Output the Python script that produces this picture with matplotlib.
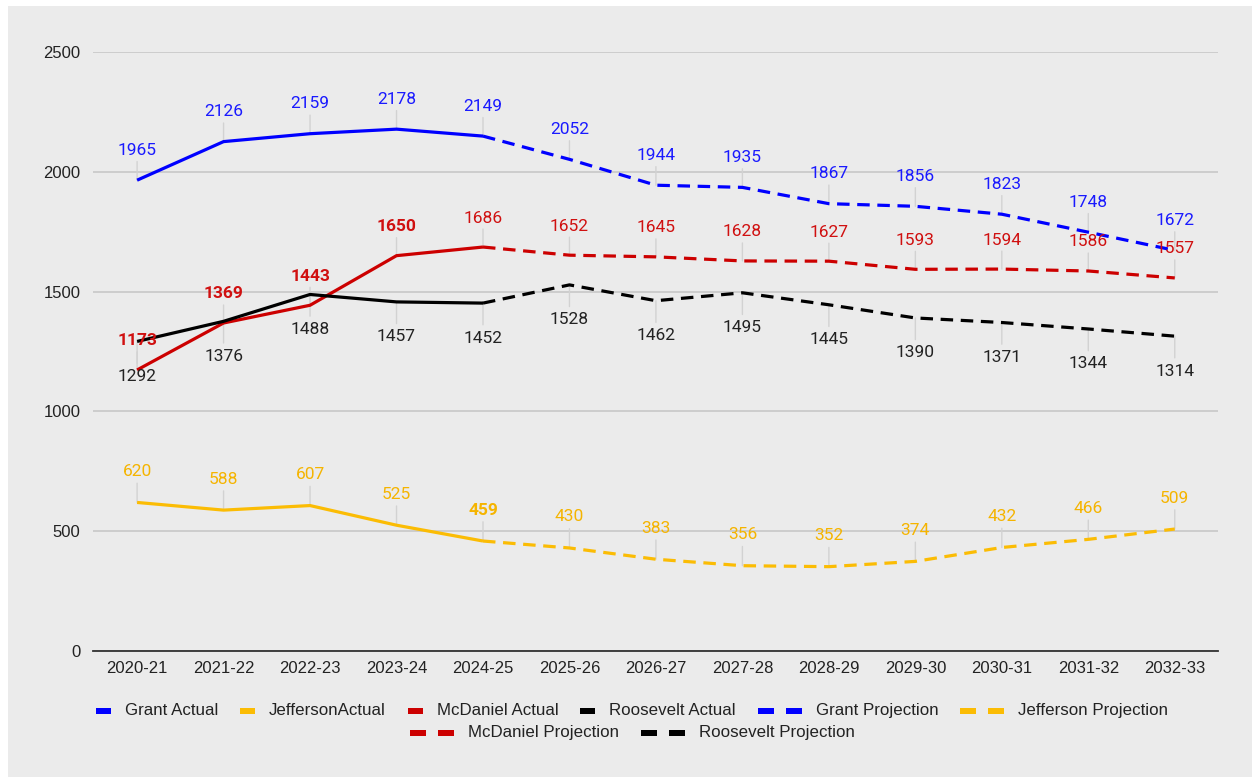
import matplotlib
matplotlib.use("Agg")
import matplotlib.pyplot as plt
from matplotlib.patches import Rectangle
from matplotlib.lines import Line2D
from matplotlib.offsetbox import DrawingArea, TextArea, HPacker, VPacker, AnchoredOffsetbox

years = ["2020-21", "2021-22", "2022-23", "2023-24", "2024-25", "2025-26", "2026-27",
         "2027-28", "2028-29", "2029-30", "2030-31", "2031-32", "2032-33"]

grant_actual = [1965, 2126, 2159, 2178, 2149]
jefferson_actual = [620, 588, 607, 525, 459]
mcdaniel_actual = [1173, 1369, 1443, 1650, 1686]
roosevelt_actual = [1292, 1376, 1488, 1457, 1452]

grant_proj = [2149, 2052, 1944, 1935, 1867, 1856, 1823, 1748, 1672]
jefferson_proj = [459, 430, 383, 356, 352, 374, 432, 466, 509]
mcdaniel_proj = [1686, 1652, 1645, 1628, 1627, 1593, 1594, 1586, 1557]
roosevelt_proj = [1452, 1528, 1462, 1495, 1445, 1390, 1371, 1344, 1314]

yticks = [0, 500, 1000, 1500, 2000, 2500]

W, H, DPI = 1252, 777, 100
fig = plt.figure(figsize=(W / DPI, H / DPI), dpi=DPI, facecolor="white")
fig.patches.append(Rectangle((8 / W, 0), 1, 1 - 6 / H, transform=fig.transFigure,
                             facecolor="#ebebeb", edgecolor="none", zorder=-10))

ax = fig.add_axes([93 / W, 1 - 651 / H, (1218 - 93) / W, (651 - 52) / H])
ax.set_facecolor("none")
ax.set_xlim(-0.51, 12.5)
ax.set_ylim(0, 2500)
ax.set_yticks(yticks)
ax.set_xticks(range(len(years)))
ax.set_xticklabels(years)
for s in ["top", "right", "left"]:
    ax.spines[s].set_visible(False)
ax.spines["bottom"].set_color("#333333")
ax.spines["bottom"].set_linewidth(1.3)
ax.tick_params(length=0, labelsize=12, colors="#222222", pad=7)
ax.tick_params(axis="y", pad=9)
for lab in ax.get_xticklabels() + ax.get_yticklabels():
    lab.set_family("Liberation Sans")
ax.grid(axis="y", color="#c4c4c4", linewidth=1.1)
ax.set_axisbelow(True)

series = [
    ("Grant", grant_actual, grant_proj, "#0000ff", "#1a1aff", -30),
    ("Jefferson", jefferson_actual, jefferson_proj, "#fbbc04", "#f5b400", -31),
    ("McDaniel", mcdaniel_actual, mcdaniel_proj, "#cc0000", "#d01010", -29),
    ("Roosevelt", roosevelt_actual, roosevelt_proj, "#000000", "#222222", 35),
]
bold_labels = {("McDaniel", 0), ("McDaniel", 1), ("McDaniel", 2), ("McDaniel", 3),
               ("Jefferson", 4)}

lw = 2.3
dash = (0, (9 / lw, 5.5 / lw))
na = len(grant_actual)
xa = list(range(na))
xp = list(range(na - 1, len(years)))

for name, act, proj, col, lcol, off in series:
    ax.plot(xa, act, color=col, lw=lw, solid_capstyle="butt", zorder=3)
    ax.plot(xp, proj, color=col, lw=lw, linestyle=dash, zorder=3)
    vals = act + proj[1:]
    for i, v in enumerate(vals):
        ax.annotate("", xy=(i, v), xytext=(0, -off * 0.62), textcoords="offset pixels",
                    arrowprops=dict(arrowstyle="-", color="#d2d2d2", lw=1,
                                    shrinkA=0, shrinkB=0), zorder=2)
        ax.annotate(str(v), xy=(i, v), xytext=(0, -off), textcoords="offset pixels",
                    ha="center", va="center", fontsize=12.5, color=lcol,
                    family="Roboto",
                    fontweight="bold" if (name, i) in bold_labels else "normal",
                    zorder=4, annotation_clip=False)

# legend built from offset boxes
PT = 72 / DPI
def handle(color, projection):
    if projection:
        da = DrawingArea(44 * PT, 10 * PT, 0, 0)
        da.add_artist(Line2D([0, 16 * PT], [5 * PT, 5 * PT], color=color, lw=6 * PT,
                             solid_capstyle="butt"))
        da.add_artist(Line2D([28 * PT, 44 * PT], [5 * PT, 5 * PT], color=color, lw=6 * PT,
                             solid_capstyle="butt"))
    else:
        da = DrawingArea(15 * PT, 10 * PT, 0, 0)
        da.add_artist(Line2D([0, 15 * PT], [5 * PT, 5 * PT], color=color, lw=6 * PT,
                             solid_capstyle="butt"))
    return da

def item(label, color, projection):
    ta = TextArea(label, textprops=dict(fontsize=12.2, color="#222222",
                                        family="Liberation Sans"))
    return HPacker(children=[handle(color, projection), ta], sep=14 * PT, align="center", pad=0)

legend_labels_row1 = ["Grant Actual", "JeffersonActual", "McDaniel Actual", "Roosevelt Actual",
                      "Grant Projection", "Jefferson Projection"]
legend_labels_row2 = ["McDaniel Projection", "Roosevelt Projection"]
colors = {s[0]: s[3] for s in series}

def legend_items(labels):
    out = []
    for lab in labels:
        nm = lab.replace(" Actual", "").replace("Actual", "").replace(" Projection", "")
        out.append(item(lab, colors[nm], "Projection" in lab))
    return out

row1 = HPacker(children=legend_items(legend_labels_row1), sep=22 * PT, align="center", pad=0)
row2 = HPacker(children=legend_items(legend_labels_row2), sep=22 * PT, align="center", pad=0)
col = VPacker(children=[row1, row2], sep=7 * PT, align="center", pad=0)
ab = AnchoredOffsetbox(loc="center", child=col, frameon=False, pad=0, borderpad=0,
                       bbox_to_anchor=(632 / W, 1 - 721.5 / H), bbox_transform=fig.transFigure)
fig.add_artist(ab)

fig.savefig("out.png", dpi=DPI, facecolor="white")
